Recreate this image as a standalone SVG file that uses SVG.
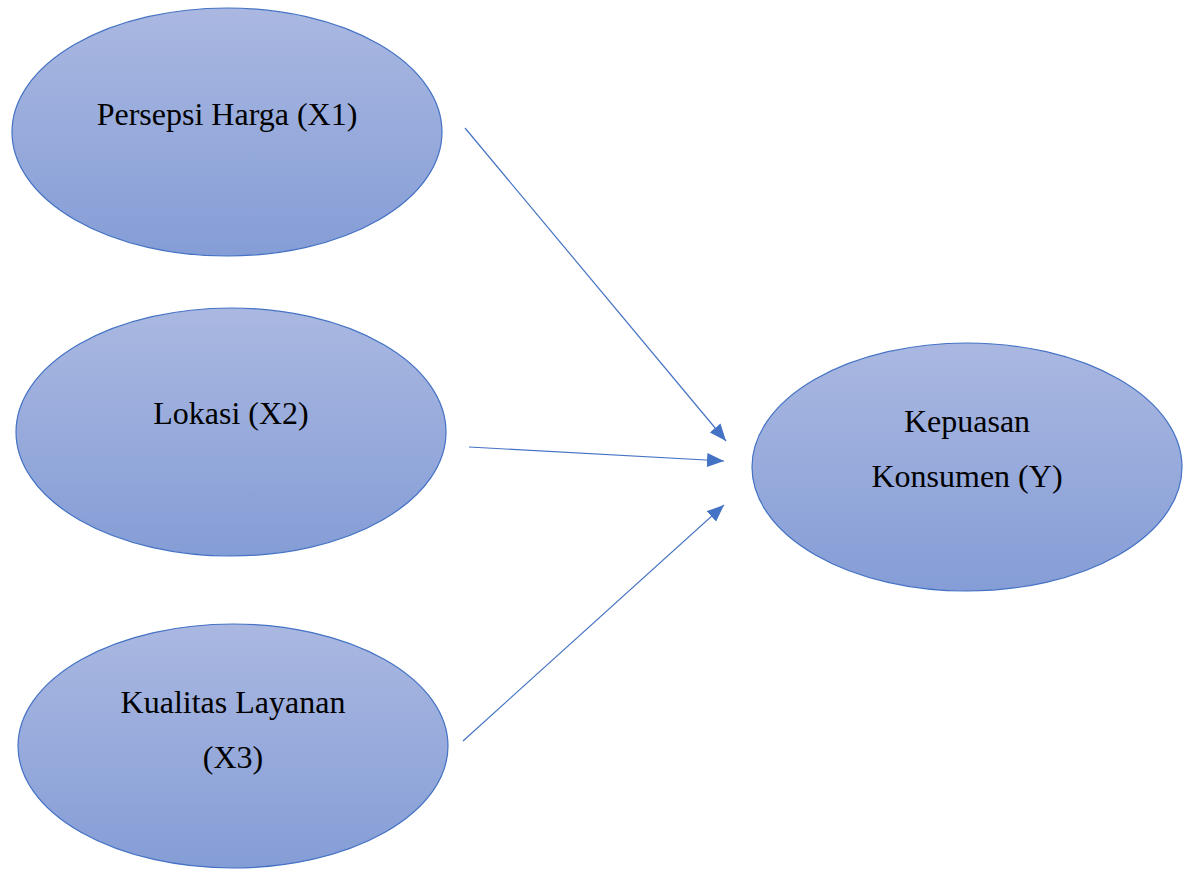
<svg xmlns="http://www.w3.org/2000/svg" width="1187" height="870" viewBox="0 0 1187 870">
  <style>
    .node { stroke: #4472c4; stroke-width: 1.2; fill: url(#fillGrad); }
    .label { font-family: "Liberation Serif", "Times New Roman", serif; font-size: 32px; fill: #000; text-anchor: middle; }
    .edge { stroke: #4472c4; stroke-width: 1.2; fill: none; marker-end: url(#arrow); }
  </style>
  <defs>
    <linearGradient id="fillGrad" x1="0" y1="0" x2="0" y2="1">
      <stop offset="0" stop-color="#aab8e1"/>
      <stop offset="1" stop-color="#859dd6"/>
    </linearGradient>
    <marker id="arrow" viewBox="0 0 17 14" refX="17" refY="7" markerWidth="17" markerHeight="14" markerUnits="userSpaceOnUse" orient="auto">
      <path d="M0,0 L17,7 L0,14 Z" fill="#4472c4"/>
    </marker>
  </defs>
  <rect width="1187" height="870" fill="#ffffff"/>

  <g id="x1">
    <ellipse class="node" cx="227" cy="132" rx="215" ry="124"/>
    <text class="label" x="227" y="125">Persepsi Harga (X1)</text>
  </g>
  <g id="x2">
    <ellipse class="node" cx="231" cy="432" rx="215" ry="124"/>
    <text class="label" x="231" y="424">Lokasi (X2)</text>
  </g>
  <g id="x3">
    <ellipse class="node" cx="233" cy="746" rx="215" ry="122"/>
    <text class="label" x="233" y="713">Kualitas Layanan</text>
    <text class="label" x="233" y="768">(X3)</text>
  </g>
  <g id="y">
    <ellipse class="node" cx="967" cy="467" rx="215" ry="124"/>
    <text class="label" x="967" y="432">Kepuasan</text>
    <text class="label" x="967" y="487">Konsumen (Y)</text>
  </g>

  <g id="connectors">
    <line class="edge" x1="465" y1="128" x2="726" y2="441"/>
    <line class="edge" x1="469" y1="447" x2="724" y2="461"/>
    <line class="edge" x1="463" y1="741" x2="724" y2="505"/>
  </g>
</svg>
